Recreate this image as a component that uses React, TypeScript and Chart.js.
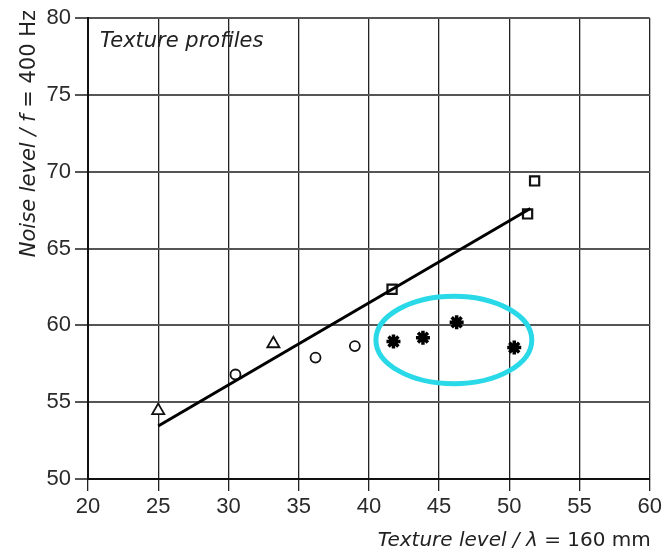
import React, { useEffect, useRef } from "react";
import { Chart, registerables } from "chart.js";

Chart.register(...registerables);

const triangleX = [25.0, 33.2];
const triangleY = [54.45, 58.8];
const circleX = [30.5, 36.2, 39.0];
const circleY = [56.8, 57.9, 58.65];
const squareX = [41.65, 51.3, 51.8];
const squareY = [62.35, 67.25, 69.4];
const starX = [41.75, 43.85, 46.25, 50.35];
const starY = [58.95, 59.2, 60.2, 58.55];
const fitX = [25.0, 51.5];
const fitY = [53.45, 67.6];
const ellipseCenter = [46.05, 59.05];
const ellipseRadii = [5.55, 2.85];

const xTicks = [20, 25, 30, 35, 40, 45, 50, 55, 60];
const yTicks = [50, 55, 60, 65, 70, 75, 80];

const FONT = "'Liberation Sans', Arial, sans-serif";
const TFONT = "'DejaVu Sans', sans-serif";

const pts = (xs: number[], ys: number[]) => xs.map((x, i) => ({ x, y: ys[i] }));

const overlayPlugin = {
  id: "overlay",
  afterDatasetsDraw(chart: any) {
    const ctx = chart.ctx;
    const xs = chart.scales.x;
    const ys = chart.scales.y;
    const cx = xs.getPixelForValue(ellipseCenter[0]);
    const cy = ys.getPixelForValue(ellipseCenter[1]);
    const rx = Math.abs(xs.getPixelForValue(ellipseCenter[0] + ellipseRadii[0]) - cx);
    const ry = Math.abs(ys.getPixelForValue(ellipseCenter[1] + ellipseRadii[1]) - cy);
    ctx.save();
    ctx.beginPath();
    ctx.ellipse(cx, cy, rx, ry, 0, 0, Math.PI * 2);
    ctx.strokeStyle = "#2ad9e8";
    ctx.lineWidth = 5;
    ctx.stroke();
    ctx.restore();
  },
  afterDraw(chart: any) {
    const ctx = chart.ctx;
    const area = chart.chartArea;
    ctx.save();
    ctx.fillStyle = "#222";
    ctx.textBaseline = "alphabetic";
    ctx.font = `italic 21px ${TFONT}`;
    ctx.textAlign = "left";
    ctx.fillText("Texture profiles", area.left + 12, area.top + 29);
    const xa = "Texture level / \u03bb";
    const xb = " = 160 mm";
    ctx.font = `20px ${TFONT}`;
    const wb = ctx.measureText(xb).width;
    ctx.font = `italic 20px ${TFONT}`;
    const wa = ctx.measureText(xa).width;
    const endX = area.right + 1;
    const baseY = 546;
    ctx.fillText(xa, endX - wb - wa, baseY);
    ctx.font = `20px ${TFONT}`;
    ctx.fillText(xb, endX - wb, baseY);
    const ya = "Noise level / f";
    const yb = " = 400 Hz";
    ctx.translate(35, 10);
    ctx.rotate(-Math.PI / 2);
    ctx.font = `21px ${TFONT}`;
    const wyb = ctx.measureText(yb).width;
    ctx.font = `italic 21px ${TFONT}`;
    const wya = ctx.measureText(ya).width;
    ctx.fillText(ya, -wyb - wya, 0);
    ctx.font = `21px ${TFONT}`;
    ctx.fillText(yb, -wyb, 0);
    ctx.restore();
  },
};

export default function App() {
  const ref = useRef<HTMLCanvasElement | null>(null);
  useEffect(() => {
    if (!ref.current) return;
    const chart = new Chart(ref.current, {
      type: "scatter",
      data: {
        datasets: [
          {
            type: "line",
            data: pts(fitX, fitY),
            borderColor: "#000",
            borderWidth: 3,
            pointRadius: 0,
            showLine: true,
          } as any,
          {
            data: pts(triangleX, triangleY),
            pointStyle: "triangle",
            pointRadius: 7,
            borderColor: "#111",
            backgroundColor: "#fff",
            borderWidth: 1.8,
          },
          {
            data: pts(circleX, circleY),
            pointStyle: "circle",
            pointRadius: 5,
            borderColor: "#111",
            backgroundColor: "#fff",
            borderWidth: 1.8,
          },
          {
            data: pts(squareX, squareY),
            pointStyle: "rect",
            pointRadius: 6.5,
            borderColor: "#111",
            backgroundColor: "#fff",
            borderWidth: 2.2,
          },
          {
            data: pts(starX, starY),
            pointStyle: "star",
            pointRadius: 7,
            borderColor: "#000",
            backgroundColor: "#000",
            borderWidth: 3.5,
          },
        ],
      },
      options: {
        animation: false,
        responsive: true,
        maintainAspectRatio: false,
        layout: { padding: { top: 18, right: 15, left: 0, bottom: 0 } },
        plugins: { legend: { display: false }, tooltip: { enabled: false } },
        scales: {
          x: {
            type: "linear",
            min: 20,
            max: 60,
            afterBuildTicks: (s: any) => {
              s.ticks = xTicks.map((v) => ({ value: v }));
            },
            afterFit: (s: any) => {
              s.height = 74;
            },
            ticks: {
              color: "#2a2a2a",
              font: { family: FONT, size: 22 },
              padding: 3,
            },
            grid: { color: "#222", lineWidth: 1.3, tickLength: 12 },
            border: { color: "#111", width: 2 },
          },
          y: {
            type: "linear",
            min: 50,
            max: 80,
            afterBuildTicks: (s: any) => {
              s.ticks = yTicks.map((v) => ({ value: v }));
            },
            afterFit: (s: any) => {
              s.width = 88;
            },
            ticks: {
              color: "#2a2a2a",
              font: { family: FONT, size: 22 },
              padding: 4,
            },
            grid: { color: "#555", lineWidth: 2, tickLength: 13 },
            border: { color: "#111", width: 2 },
          },
        },
      },
      plugins: [overlayPlugin],
    });
    return () => chart.destroy();
  }, []);
  return (
    <div style={{ position: "fixed", left: 0, top: 0, width: 665, height: 553, background: "#fff" }}>
      <canvas ref={ref} />
    </div>
  );
}
